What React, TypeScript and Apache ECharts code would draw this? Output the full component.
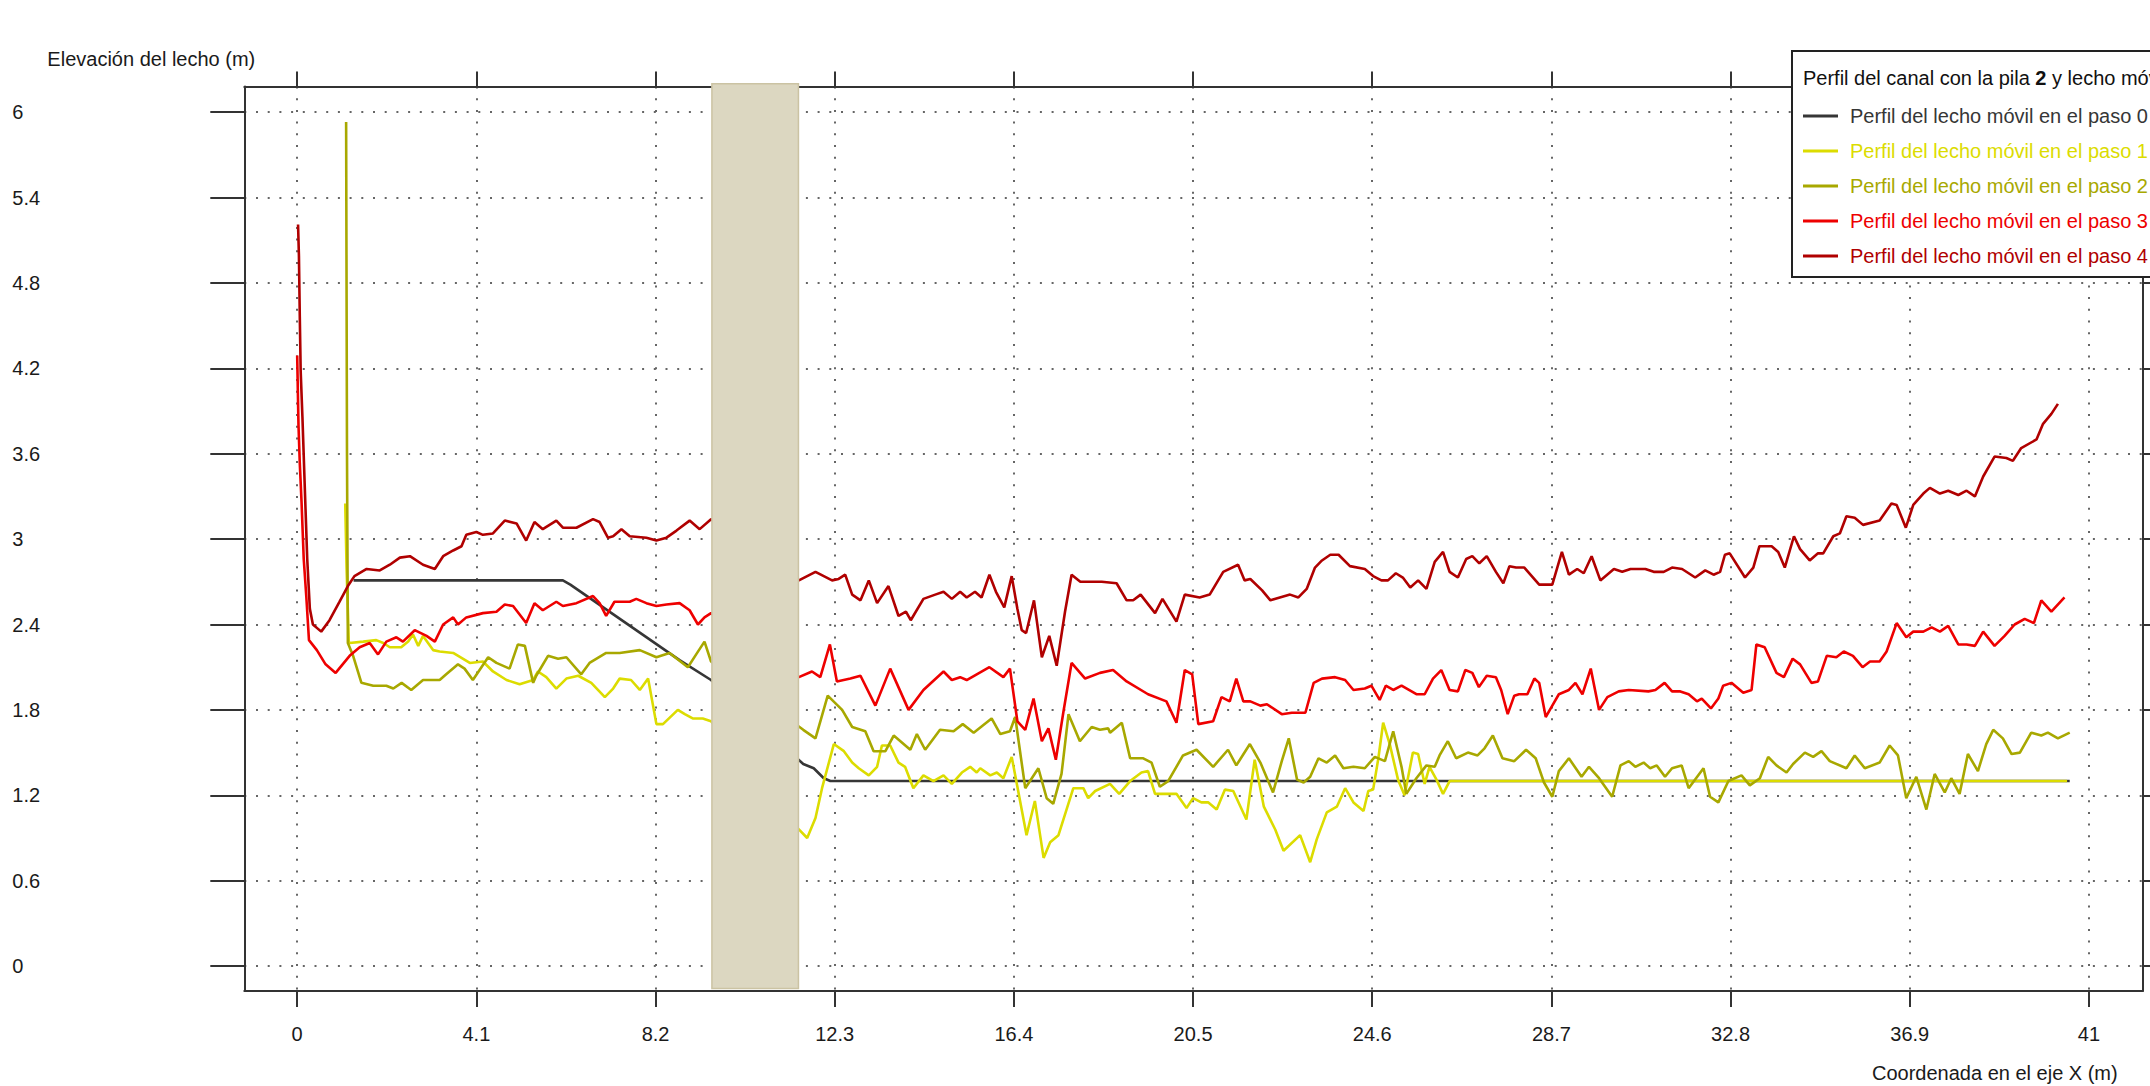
import React, { useEffect, useRef } from "react";
import * as echarts from "echarts";

const xTicks = [0, 4.1, 8.2, 12.3, 16.4, 20.5, 24.6, 28.7, 32.8, 36.9, 41];
const yTicks = [0, 0.6, 1.2, 1.8, 2.4, 3, 3.6, 4.2, 4.8, 5.4, 6];

const seriesNames = [
  "Perfil del lecho móvil en el paso 0",
  "Perfil del lecho móvil en el paso 1",
  "Perfil del lecho móvil en el paso 2",
  "Perfil del lecho móvil en el paso 3",
  "Perfil del lecho móvil en el paso 4",
];
const seriesColors = ["#363636", "#dcdc00", "#a8a800", "#ee0000", "#b00000"];

const paso0: number[][] = [
  [1.29, 2.71], [6.08, 2.71], [6.25, 2.68], [8.75, 2.15], [9.47, 2.01], [11.58, 1.42],
  [11.82, 1.39], [12.05, 1.32], [12.2, 1.3], [40.56, 1.3],
];

const paso1: number[][] = [
  [1.1, 3.25], [1.13, 2.8], [1.18, 2.28], [1.2, 2.27], [1.51, 2.28], [1.81, 2.29], [1.97, 2.27],
  [2.12, 2.24], [2.38, 2.24], [2.54, 2.28], [2.65, 2.33], [2.77, 2.25], [2.88, 2.32], [3.11, 2.22],
  [3.26, 2.21], [3.57, 2.2], [3.95, 2.13], [4.25, 2.14], [4.48, 2.07], [4.79, 2.01], [5.09, 1.98],
  [5.4, 2.01], [5.51, 2.07], [5.7, 2.03], [5.93, 1.95], [6.16, 2.02], [6.43, 2.04], [6.73, 1.99],
  [7.04, 1.89], [7.23, 1.95], [7.38, 2.02], [7.64, 2.01], [7.84, 1.94], [8.03, 2.02], [8.22, 1.7],
  [8.37, 1.7], [8.71, 1.8], [8.87, 1.77], [9.05, 1.74], [9.28, 1.74], [9.47, 1.72],
  [11.48, 0.96], [11.67, 0.9], [11.86, 1.04], [12.01, 1.25], [12.28, 1.56], [12.51, 1.51],
  [12.7, 1.43], [12.85, 1.39], [13.08, 1.34], [13.27, 1.4], [13.38, 1.55], [13.57, 1.55],
  [13.76, 1.43], [13.91, 1.4], [14.1, 1.25], [14.33, 1.34], [14.56, 1.3], [14.79, 1.34],
  [14.98, 1.28], [15.21, 1.36], [15.4, 1.4], [15.55, 1.36], [15.63, 1.39], [15.86, 1.34],
  [16.01, 1.36], [16.16, 1.32], [16.35, 1.47], [16.48, 1.26], [16.69, 0.92], [16.88, 1.16],
  [17.08, 0.76], [17.23, 0.87], [17.42, 0.92], [17.76, 1.25], [17.99, 1.25], [18.1, 1.18],
  [18.26, 1.23], [18.6, 1.28], [18.81, 1.21], [19.06, 1.3], [19.32, 1.36], [19.47, 1.37],
  [19.63, 1.21], [20.12, 1.21], [20.35, 1.11], [20.5, 1.18], [20.69, 1.15], [20.85, 1.15],
  [21.04, 1.1], [21.23, 1.24], [21.42, 1.23], [21.72, 1.03], [21.91, 1.45], [22.12, 1.12],
  [22.38, 0.96], [22.57, 0.81], [22.95, 0.92], [23.18, 0.73], [23.33, 0.89], [23.56, 1.08],
  [23.79, 1.12], [23.98, 1.25], [24.17, 1.15], [24.4, 1.09], [24.51, 1.23], [24.62, 1.24],
  [24.74, 1.46], [24.85, 1.71], [25.0, 1.56], [25.19, 1.31], [25.34, 1.2], [25.53, 1.5],
  [25.65, 1.49], [25.8, 1.28], [25.91, 1.4], [26.07, 1.31], [26.22, 1.21], [26.37, 1.3],
  [40.5, 1.3],
];

const paso2: number[][] = [
  [1.12, 5.93], [1.14, 3.6], [1.16, 2.27], [1.28, 2.18], [1.47, 1.99], [1.74, 1.97], [2.04, 1.97],
  [2.2, 1.95], [2.39, 1.99], [2.61, 1.94], [2.88, 2.01], [3.26, 2.01], [3.41, 2.05], [3.68, 2.12],
  [3.83, 2.09], [4.02, 2.01], [4.37, 2.17], [4.56, 2.13], [4.86, 2.09], [5.05, 2.26], [5.21, 2.25],
  [5.4, 1.99], [5.47, 2.04], [5.74, 2.18], [5.97, 2.16], [6.16, 2.17], [6.5, 2.05], [6.69, 2.13],
  [7.07, 2.2], [7.38, 2.2], [7.84, 2.22], [8.22, 2.17], [8.52, 2.2], [8.94, 2.1], [9.13, 2.19],
  [9.32, 2.28], [9.47, 2.14],
  [11.58, 1.66], [11.86, 1.6], [12.14, 1.9], [12.47, 1.8], [12.7, 1.68], [13.0, 1.65],
  [13.19, 1.51], [13.46, 1.51], [13.65, 1.62], [14.03, 1.52], [14.18, 1.63], [14.37, 1.52],
  [14.71, 1.66], [15.02, 1.65], [15.23, 1.7], [15.48, 1.64], [15.89, 1.74], [16.09, 1.63],
  [16.31, 1.65], [16.43, 1.75], [16.66, 1.25], [16.96, 1.39], [17.15, 1.18], [17.3, 1.14],
  [17.49, 1.35], [17.65, 1.77], [17.91, 1.58], [18.18, 1.68], [18.37, 1.66], [18.56, 1.67],
  [18.6, 1.64], [18.87, 1.71], [19.06, 1.46], [19.36, 1.46], [19.55, 1.43], [19.74, 1.26],
  [19.93, 1.3], [20.27, 1.48], [20.58, 1.52], [20.96, 1.4], [21.3, 1.52], [21.49, 1.41],
  [21.8, 1.56], [22.04, 1.43], [22.33, 1.22], [22.53, 1.44], [22.69, 1.6], [22.88, 1.31],
  [23.03, 1.29], [23.18, 1.33], [23.37, 1.46], [23.56, 1.43], [23.75, 1.48], [23.94, 1.39],
  [24.17, 1.4], [24.43, 1.39], [24.66, 1.47], [24.89, 1.44], [25.08, 1.65], [25.27, 1.4],
  [25.38, 1.21], [25.61, 1.32], [25.84, 1.41], [26.03, 1.4], [26.14, 1.48], [26.33, 1.58],
  [26.52, 1.46], [26.79, 1.5], [27.01, 1.48], [27.17, 1.53], [27.36, 1.62], [27.58, 1.46],
  [27.85, 1.44], [28.12, 1.52], [28.34, 1.46], [28.53, 1.29], [28.72, 1.19], [28.87, 1.37],
  [29.1, 1.46], [29.39, 1.33], [29.56, 1.4], [29.79, 1.32], [30.09, 1.19], [30.28, 1.41],
  [30.47, 1.44], [30.62, 1.4], [30.81, 1.43], [30.96, 1.39], [31.11, 1.41], [31.3, 1.33],
  [31.46, 1.39], [31.68, 1.41], [31.84, 1.25], [32.18, 1.39], [32.33, 1.19], [32.52, 1.15],
  [32.75, 1.3], [33.05, 1.34], [33.24, 1.27], [33.47, 1.32], [33.66, 1.47], [33.85, 1.41],
  [34.08, 1.36], [34.23, 1.42], [34.5, 1.5], [34.69, 1.47], [34.88, 1.51], [35.07, 1.44],
  [35.45, 1.39], [35.64, 1.48], [35.87, 1.39], [36.21, 1.43], [36.44, 1.55], [36.63, 1.48],
  [36.82, 1.18], [37.05, 1.33], [37.28, 1.1], [37.47, 1.35], [37.7, 1.22], [37.85, 1.32],
  [38.04, 1.21], [38.23, 1.49], [38.46, 1.37], [38.65, 1.56], [38.81, 1.66], [39.03, 1.6],
  [39.23, 1.49], [39.42, 1.5], [39.68, 1.64], [39.91, 1.62], [40.06, 1.64], [40.29, 1.6],
  [40.56, 1.64],
];

const paso3: number[][] = [
  [0.0, 4.29], [0.03, 3.8], [0.06, 3.53], [0.1, 3.26], [0.15, 2.86], [0.21, 2.59], [0.27, 2.29],
  [0.45, 2.22], [0.65, 2.12], [0.88, 2.06], [1.2, 2.18], [1.43, 2.24], [1.66, 2.27], [1.85, 2.19],
  [2.04, 2.28], [2.27, 2.31], [2.42, 2.28], [2.69, 2.36], [2.96, 2.32], [3.15, 2.28], [3.34, 2.4],
  [3.57, 2.45], [3.68, 2.4], [3.87, 2.45], [4.25, 2.48], [4.56, 2.49], [4.75, 2.54], [4.94, 2.53],
  [5.24, 2.41], [5.43, 2.55], [5.62, 2.5], [5.93, 2.56], [6.08, 2.53], [6.39, 2.55], [6.77, 2.6],
  [6.92, 2.55], [7.07, 2.46], [7.26, 2.56], [7.61, 2.56], [7.76, 2.58], [7.99, 2.55], [8.22, 2.53],
  [8.45, 2.54], [8.75, 2.55], [8.98, 2.5], [9.17, 2.4], [9.32, 2.45], [9.47, 2.48],
  [11.48, 2.03], [11.78, 2.07], [11.97, 2.03], [12.19, 2.26], [12.35, 2.0], [12.66, 2.02],
  [12.89, 2.04], [13.23, 1.83], [13.57, 2.09], [13.99, 1.8], [14.33, 1.94], [14.79, 2.07],
  [14.98, 2.01], [15.17, 2.03], [15.32, 2.01], [15.55, 2.05], [15.84, 2.1], [16.16, 2.03],
  [16.31, 2.09], [16.48, 1.72], [16.66, 1.66], [16.85, 1.88], [17.04, 1.58], [17.19, 1.67],
  [17.36, 1.45], [17.53, 1.78], [17.72, 2.13], [18.03, 2.02], [18.37, 2.06], [18.67, 2.08],
  [18.98, 2.0], [19.47, 1.91], [19.89, 1.86], [20.12, 1.71], [20.31, 2.08], [20.48, 2.05],
  [20.62, 1.7], [20.96, 1.72], [21.15, 1.89], [21.34, 1.86], [21.49, 2.02], [21.65, 1.86],
  [21.81, 1.86], [22.04, 1.83], [22.19, 1.84], [22.53, 1.77], [22.76, 1.78], [23.07, 1.78],
  [23.26, 1.99], [23.45, 2.02], [23.75, 2.03], [23.98, 2.01], [24.17, 1.94], [24.43, 1.95],
  [24.58, 1.97], [24.77, 1.87], [24.91, 1.97], [25.08, 1.94], [25.27, 1.97], [25.61, 1.91],
  [25.8, 1.91], [25.99, 2.02], [26.18, 2.08], [26.37, 1.94], [26.56, 1.93], [26.73, 2.08],
  [26.89, 2.06], [27.04, 1.96], [27.22, 2.04], [27.43, 2.03], [27.55, 1.94], [27.7, 1.77],
  [27.85, 1.9], [27.96, 1.91], [28.15, 1.91], [28.31, 2.02], [28.42, 1.99], [28.57, 1.75],
  [28.72, 1.83], [28.87, 1.91], [29.1, 1.94], [29.25, 1.99], [29.41, 1.91], [29.6, 2.09],
  [29.79, 1.8], [29.98, 1.89], [30.24, 1.93], [30.47, 1.94], [30.92, 1.93], [31.08, 1.94],
  [31.29, 1.99], [31.46, 1.93], [31.65, 1.93], [31.84, 1.91], [32.03, 1.86], [32.14, 1.88],
  [32.35, 1.81], [32.52, 1.88], [32.63, 1.97], [32.82, 1.99], [33.09, 1.92], [33.28, 1.94],
  [33.39, 2.26], [33.58, 2.24], [33.85, 2.06], [34.02, 2.03], [34.22, 2.16], [34.39, 2.12],
  [34.65, 1.99], [34.8, 2.0], [35.0, 2.18], [35.22, 2.17], [35.39, 2.21], [35.6, 2.18],
  [35.82, 2.1], [35.99, 2.14], [36.21, 2.14], [36.37, 2.21], [36.6, 2.41], [36.82, 2.31],
  [36.98, 2.35], [37.21, 2.35], [37.4, 2.38], [37.59, 2.35], [37.78, 2.39], [38.01, 2.26],
  [38.2, 2.26], [38.39, 2.25], [38.58, 2.35], [38.84, 2.25], [39.07, 2.32], [39.3, 2.4],
  [39.53, 2.44], [39.74, 2.41], [39.91, 2.57], [40.14, 2.49], [40.44, 2.59],
];

const paso4: number[][] = [
  [0.02, 5.21], [0.04, 4.99], [0.06, 4.56], [0.08, 4.18], [0.12, 3.86], [0.17, 3.4], [0.23, 2.86],
  [0.29, 2.51], [0.36, 2.4], [0.55, 2.35], [0.74, 2.43], [0.97, 2.56], [1.16, 2.67], [1.31, 2.74],
  [1.59, 2.79], [1.89, 2.78], [2.12, 2.82], [2.35, 2.87], [2.58, 2.88], [2.88, 2.82], [3.15, 2.79],
  [3.34, 2.88], [3.57, 2.92], [3.76, 2.95], [3.87, 3.03], [4.1, 3.05], [4.25, 3.03], [4.48, 3.04],
  [4.75, 3.13], [5.02, 3.11], [5.24, 2.99], [5.43, 3.12], [5.62, 3.07], [5.93, 3.13], [6.08, 3.08],
  [6.39, 3.08], [6.77, 3.14], [6.92, 3.12], [7.11, 3.01], [7.23, 3.02], [7.42, 3.07], [7.61, 3.02],
  [7.99, 3.01], [8.22, 2.99], [8.45, 3.01], [8.68, 3.06], [8.98, 3.13], [9.21, 3.07], [9.47, 3.14],
  [11.48, 2.71], [11.86, 2.77], [12.24, 2.71], [12.39, 2.72], [12.54, 2.75], [12.7, 2.61],
  [12.89, 2.57], [13.08, 2.71], [13.27, 2.55], [13.53, 2.67], [13.76, 2.46], [13.93, 2.49],
  [14.04, 2.43], [14.33, 2.58], [14.6, 2.61], [14.79, 2.63], [14.98, 2.58], [15.17, 2.63],
  [15.32, 2.59], [15.51, 2.63], [15.66, 2.59], [15.84, 2.75], [15.99, 2.63], [16.18, 2.52],
  [16.35, 2.74], [16.48, 2.51], [16.58, 2.36], [16.68, 2.34], [16.86, 2.57], [17.04, 2.17],
  [17.21, 2.32], [17.38, 2.11], [17.57, 2.49], [17.72, 2.75], [17.92, 2.7], [18.41, 2.7],
  [18.75, 2.69], [18.98, 2.57], [19.13, 2.57], [19.3, 2.61], [19.63, 2.48], [19.8, 2.58],
  [20.12, 2.42], [20.31, 2.61], [20.65, 2.59], [20.88, 2.61], [21.19, 2.77], [21.53, 2.82],
  [21.68, 2.71], [21.81, 2.72], [22.08, 2.64], [22.27, 2.57], [22.72, 2.61], [22.91, 2.59],
  [23.1, 2.65], [23.29, 2.8], [23.45, 2.85], [23.64, 2.89], [23.83, 2.89], [24.09, 2.81],
  [24.43, 2.79], [24.62, 2.74], [24.81, 2.71], [24.96, 2.71], [25.14, 2.76], [25.3, 2.73],
  [25.47, 2.66], [25.65, 2.71], [25.84, 2.65], [26.03, 2.84], [26.22, 2.91], [26.37, 2.77],
  [26.56, 2.73], [26.75, 2.86], [26.89, 2.88], [27.05, 2.83], [27.22, 2.88], [27.43, 2.77],
  [27.6, 2.69], [27.74, 2.81], [27.89, 2.8], [28.08, 2.8], [28.42, 2.68], [28.72, 2.68],
  [28.94, 2.91], [29.1, 2.75], [29.29, 2.79], [29.44, 2.76], [29.62, 2.88], [29.82, 2.71],
  [30.13, 2.79], [30.32, 2.77], [30.51, 2.79], [30.85, 2.79], [31.04, 2.77], [31.27, 2.77],
  [31.46, 2.8], [31.69, 2.79], [31.99, 2.73], [32.22, 2.78], [32.41, 2.75], [32.56, 2.77],
  [32.67, 2.89], [32.78, 2.9], [33.13, 2.73], [33.32, 2.8], [33.46, 2.95], [33.74, 2.95],
  [33.89, 2.91], [34.04, 2.8], [34.25, 3.02], [34.39, 2.93], [34.61, 2.85], [34.8, 2.9],
  [34.92, 2.9], [35.15, 3.02], [35.3, 3.04], [35.45, 3.16], [35.64, 3.15], [35.83, 3.1],
  [36.21, 3.13], [36.48, 3.25], [36.6, 3.24], [36.81, 3.08], [36.98, 3.24], [37.21, 3.32],
  [37.36, 3.36], [37.59, 3.32], [37.78, 3.34], [38.01, 3.31], [38.2, 3.34], [38.39, 3.3],
  [38.58, 3.44], [38.84, 3.58], [39.11, 3.57], [39.26, 3.55], [39.45, 3.64], [39.8, 3.7],
  [39.95, 3.81], [40.14, 3.88], [40.29, 3.95],
];

// Pier (pila) extent in data units: [xStart, xEnd, yBottom, yTop]
const pila = [9.49, 11.47, -0.157, 6.2];

const allSeries = [paso0, paso1, paso2, paso3, paso4];

const FONT = "Liberation Sans";
const AXIS_COLOR = "#333";
const X_MIN = -1.21;
const X_MAX = 42.23;
const Y_MIN = -0.175;
const Y_MAX = 6.18;

function buildOption(): any {
  const gridLine = { show: true, lineStyle: { color: "#666", width: 2, type: [2, 9.7] } };
  return {
    animation: false,
    backgroundColor: "#ffffff",
    grid: { left: 244.3, right: 7.3, top: 86.5, bottom: 95, containLabel: false },
    xAxis: [
      {
        type: "value",
        position: "bottom",
        min: X_MIN,
        max: X_MAX,
        axisLine: { show: true, onZero: false, lineStyle: { color: AXIS_COLOR, width: 2 } },
        axisTick: { show: true, inside: false, length: 16, customValues: xTicks, lineStyle: { color: AXIS_COLOR, width: 2 } },
        axisLabel: {
          customValues: xTicks,
          margin: 33,
          fontSize: 20,
          fontFamily: FONT,
          color: "#1a1a1a",
          formatter: (v: number) => String(v),
        },
        splitLine: gridLine,
        name: "Coordenada en el eje X (m)",
        nameLocation: "end",
        nameGap: -25,
        nameTextStyle: {
          fontSize: 20,
          fontFamily: FONT,
          color: "#1a1a1a",
          align: "right",
          verticalAlign: "top",
          padding: [72, 0, 0, 0],
        },
      },
      {
        type: "value",
        position: "top",
        min: X_MIN,
        max: X_MAX,
        axisLine: { show: true, onZero: false, lineStyle: { color: AXIS_COLOR, width: 2 } },
        axisTick: { show: true, inside: false, length: 15, customValues: xTicks, lineStyle: { color: AXIS_COLOR, width: 2 } },
        axisLabel: { show: false },
        splitLine: { show: false },
      },
    ],
    yAxis: [
      {
        type: "value",
        position: "left",
        min: Y_MIN,
        max: Y_MAX,
        axisLine: { show: true, onZero: false, lineStyle: { color: AXIS_COLOR, width: 2 } },
        axisTick: { show: true, inside: false, length: 34, customValues: yTicks, lineStyle: { color: AXIS_COLOR, width: 2 } },
        axisLabel: {
          customValues: yTicks,
          margin: 232,
          align: "left",
          padding: [12, 0, 0, 0],
          fontSize: 20,
          fontFamily: FONT,
          color: "#1a1a1a",
          formatter: (v: number) => String(v),
        },
        splitLine: gridLine,
        name: "Elevación del lecho (m)",
        nameLocation: "end",
        nameGap: 28,
        nameTextStyle: {
          fontSize: 20,
          fontFamily: FONT,
          color: "#1a1a1a",
          align: "center",
          verticalAlign: "middle",
          padding: [0, 186, 0, 0],
        },
      },
      {
        type: "value",
        position: "right",
        min: Y_MIN,
        max: Y_MAX,
        axisLine: { show: true, onZero: false, lineStyle: { color: AXIS_COLOR, width: 2 } },
        axisTick: { show: true, inside: false, length: 34, customValues: yTicks, lineStyle: { color: AXIS_COLOR, width: 2 } },
        axisLabel: { show: false },
        splitLine: { show: false },
      },
    ],
    legend: {
      orient: "vertical",
      left: 1792,
      top: 51,
      padding: [53, 40, 9, 11],
      itemGap: 11,
      itemWidth: 35,
      itemHeight: 3,
      icon: "rect",
      backgroundColor: "#ffffff",
      borderColor: "#222",
      borderWidth: 2,
      selectedMode: false,
      textStyle: { fontSize: 20, lineHeight: 24, fontFamily: FONT, padding: [0, 0, 0, 7] },
      data: seriesNames.map((n, i) => ({ name: n, textStyle: { color: seriesColors[i] } })),
    },
    graphic: [
      {
        type: "text",
        left: 1803,
        top: 68,
        z: 100,
        style: {
          text: "{a|Perfil del canal con la pila }{b|2}{a| y lecho móvil}",
          rich: {
            a: { fontSize: 20, fontFamily: FONT, fill: "#111" },
            b: { fontSize: 20, fontFamily: FONT, fontWeight: "bold", fill: "#111" },
          },
        },
      },
    ],
    series: [
      ...allSeries.map((d, i) => ({
        type: "line",
        name: seriesNames[i],
        xAxisIndex: 0,
        yAxisIndex: 0,
        data: d,
        symbol: "none",
        showSymbol: false,
        silent: true,
        color: seriesColors[i],
        lineStyle: { color: seriesColors[i], width: 2.6 },
        z: 2,
      })),
      {
        type: "custom",
        name: "Pila",
        xAxisIndex: 0,
        yAxisIndex: 0,
        clip: false,
        silent: true,
        z: 5,
        data: [pila],
        encode: { x: [0, 1], y: [2, 3] },
        renderItem: (_params: any, api: any) => {
          const p0 = api.coord([api.value(0), api.value(3)]);
          const p1 = api.coord([api.value(1), api.value(2)]);
          return {
            type: "rect",
            shape: { x: p0[0], y: p0[1], width: p1[0] - p0[0], height: p1[1] - p0[1] },
            style: { fill: "#dcd7c1", stroke: "#cbc3a3", lineWidth: 1.5 },
          };
        },
      },
    ],
  };
}

export default function App() {
  const ref = useRef<HTMLDivElement>(null);
  useEffect(() => {
    if (!ref.current) return;
    const chart = echarts.init(ref.current, null, { renderer: "svg" });
    chart.setOption(buildOption());
    return () => chart.dispose();
  }, []);
  return (
    <div
      ref={ref}
      style={{ position: "absolute", left: 0, top: 0, width: 2150, height: 1086, background: "#fff" }}
    />
  );
}
